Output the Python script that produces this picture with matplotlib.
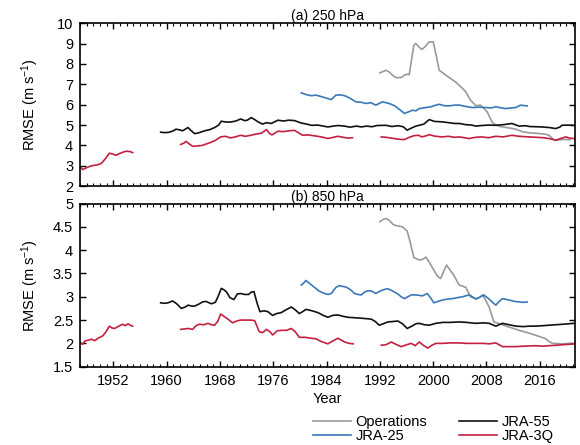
import numpy as np
import matplotlib
matplotlib.use('Agg')
import matplotlib.pyplot as plt
from matplotlib.ticker import MultipleLocator, FuncFormatter

plt.rcParams['font.family'] = ['Liberation Sans', 'DejaVu Sans']
plt.rcParams['font.size'] = 10.5
plt.rcParams['mathtext.default'] = 'regular'

nan = np.nan

# ---- (a) 250 hPa ----
ops_250_yr = [1992.0, 1992.9, 1993.4, 1994.0, 1994.4, 1995.2, 1995.7, 1996.1, 1996.4, 1997.1,
              1997.4, 1997.8, 1998.3, 1998.8, 1999.4, 2000.0, 2000.4, 2000.9, 2001.9, 2003.4,
              2004.4, 2004.9, 2005.6, 2006.4, 2007.1, 2008.1, 2008.9, 2009.9, 2011.4, 2012.4,
              2013.4, 2014.5, 2015.4, 2016.9, 2017.4, 2018.1, 2018.4, 2019.5, 2020.5]
ops_250 = [7.56, 7.69, 7.6, 7.42, 7.33, 7.33, 7.45, 7.5, 7.47, 8.92,
           9.0, 8.85, 8.71, 8.85, 9.08, 9.08, 8.5, 7.69, 7.45, 7.1,
           6.8, 6.63, 6.22, 5.95, 5.98, 5.65, 5.11, 4.94, 4.86, 4.8,
           4.67, 4.62, 4.6, 4.55, 4.5, 4.28, 4.25, 4.3, 4.28]

jra25_250_yr = [1980.2, 1980.9, 1981.7, 1982.4, 1983.4, 1984.2, 1984.7, 1985.4, 1986.2, 1986.9,
                1987.6, 1988.4, 1989.2, 1989.9, 1990.6, 1991.4, 1992.4, 1993.4, 1994.2, 1995.0,
                1995.7, 1996.3, 1996.9, 1997.4, 1997.9, 1998.9, 1999.7, 2000.4, 2000.9, 2001.7,
                2002.4, 2003.2, 2003.9, 2004.8, 2005.9, 2006.8, 2007.9, 2008.7, 2009.4, 2010.1,
                2010.9, 2011.6, 2012.4, 2013.1, 2014.1]
jra25_250 = [6.58, 6.5, 6.44, 6.47, 6.38, 6.3, 6.25, 6.47, 6.48, 6.42,
             6.3, 6.14, 6.12, 6.06, 6.1, 5.98, 6.14, 6.06, 5.95, 5.75,
             5.57, 5.65, 5.73, 5.7, 5.81, 5.86, 5.9, 5.98, 6.02, 5.95,
             5.94, 5.98, 5.98, 5.92, 5.86, 5.88, 5.86, 5.84, 5.9, 5.85,
             5.81, 5.84, 5.86, 5.98, 5.94]

jra55_250_yr = [1959.1, 1959.8, 1960.4, 1961.0, 1961.4, 1962.0, 1962.4, 1963.2, 1963.6, 1964.2,
                1964.8, 1965.7, 1966.5, 1967.2, 1967.8, 1968.2, 1968.9, 1969.6, 1970.4, 1971.1,
                1971.7, 1972.1, 1972.7, 1973.3, 1973.7, 1974.4, 1975.0, 1975.7, 1976.7, 1977.5,
                1978.3, 1979.2, 1980.2, 1981.0, 1981.7, 1982.7, 1983.5, 1984.2, 1985.0, 1985.7,
                1986.7, 1987.5, 1988.5, 1989.2, 1990.0, 1990.8, 1991.6, 1992.9, 1993.8, 1994.7,
                1995.5, 1996.1, 1996.7, 1997.4, 1997.9, 1998.6, 1999.4, 2000.2, 2001.3, 2002.3,
                2003.2, 2003.9, 2004.9, 2005.8, 2006.4, 2007.3, 2008.3, 2009.4, 2010.5, 2011.4,
                2011.8, 2012.9, 2013.8, 2014.5, 2016.3, 2017.4, 2018.4, 2019.0, 2019.3, 2020.2,
                2021.1]
jra55_250 = [4.65, 4.63, 4.65, 4.72, 4.8, 4.76, 4.72, 4.88, 4.75, 4.58,
             4.62, 4.72, 4.78, 4.88, 5.0, 5.19, 5.15, 5.15, 5.2, 5.3,
             5.22, 5.24, 5.37, 5.25, 5.16, 5.05, 5.12, 5.08, 5.24, 5.2,
             5.24, 5.22, 5.1, 5.05, 4.99, 5.0, 4.95, 4.91, 4.95, 4.98,
             4.95, 4.9, 4.95, 4.91, 4.95, 4.92, 4.98, 4.99, 4.93, 4.97,
             4.92, 4.75, 4.85, 4.95, 4.99, 5.05, 5.27, 5.18, 5.16, 5.12,
             5.08, 5.08, 5.02, 5.0, 4.95, 4.98, 5.0, 4.99, 5.02, 5.06,
             5.08, 4.95, 4.97, 4.93, 4.91, 4.88, 4.83, 4.9, 4.99, 5.0,
             4.99]

jra3q_250_yr = [1947.0, 1947.4, 1947.9, 1948.5, 1949.0, 1949.6, 1950.2, 1950.8, 1951.4, 1951.9,
                1952.4, 1952.9, 1953.5, 1954.0, 1954.5, 1954.9, 1958.0,
                1962.1, 1962.6, 1962.9, 1963.5, 1963.9, 1964.6, 1965.3, 1966.0, 1966.6, 1967.3,
                1968.1, 1968.8, 1969.6, 1970.3, 1971.1, 1971.8, 1972.6, 1973.4, 1974.2, 1975.0,
                1975.4, 1975.8, 1976.7, 1977.5, 1978.3, 1979.2, 1980.4, 1981.2, 1982.0, 1982.7,
                1983.5, 1984.2, 1985.0, 1985.7, 1986.5, 1987.2, 1987.9, 1990.0,
                1992.2, 1993.0, 1993.7, 1994.2, 1995.0, 1995.7, 1996.4, 1997.1, 1997.8, 1998.3,
                1999.0, 1999.4, 2000.2, 2001.3, 2002.3, 2003.2, 2003.9, 2004.7, 2005.4, 2006.3,
                2007.3, 2008.3, 2009.4, 2010.5, 2011.8, 2012.9, 2014.4, 2015.5, 2016.5, 2017.4,
                2018.4, 2019.2, 2019.9, 2020.5, 2021.1]
jra3q_250 = [2.95, 2.82, 2.9, 2.98, 3.02, 3.05, 3.12, 3.35, 3.62, 3.58,
             3.52, 3.6, 3.68, 3.72, 3.7, 3.65, nan,
             4.05, 4.12, 4.2, 4.05, 3.96, 3.98, 4.0, 4.08, 4.15, 4.25,
             4.42, 4.45, 4.37, 4.42, 4.5, 4.45, 4.5, 4.56, 4.6, 4.78,
             4.6, 4.52, 4.7, 4.68, 4.72, 4.74, 4.5, 4.52, 4.48, 4.45,
             4.4, 4.34, 4.4, 4.45, 4.4, 4.36, 4.38, nan,
             4.42, 4.4, 4.36, 4.34, 4.3, 4.29, 4.4, 4.48, 4.5, 4.42,
             4.48, 4.53, 4.46, 4.42, 4.45, 4.4, 4.42, 4.38, 4.34, 4.4,
             4.42, 4.38, 4.45, 4.42, 4.5, 4.45, 4.42, 4.4, 4.38, 4.34,
             4.26, 4.35, 4.42, 4.36, 4.34]

# ---- (b) 850 hPa ----
ops_850_yr = [1992.0, 1992.5, 1992.9, 1993.4, 1994.0, 1994.4, 1995.4, 1996.1, 1996.5, 1997.1,
              1997.9, 1998.4, 1998.9, 1999.5, 2000.1, 2000.6, 2001.1, 2001.6, 2002.0, 2002.5,
              2003.1, 2003.9, 2004.4, 2004.9, 2005.6, 2006.3, 2006.9, 2007.4, 2007.9, 2008.4,
              2009.1, 2010.4, 2011.4, 2012.9, 2014.4, 2016.1, 2016.9, 2017.4, 2017.9, 2019.4,
              2020.5, 2021.1]
ops_850 = [4.61, 4.66, 4.68, 4.64, 4.55, 4.53, 4.5, 4.41, 4.2, 3.84,
           3.79, 3.8, 3.85, 3.72, 3.57, 3.45, 3.39, 3.55, 3.68, 3.58,
           3.46, 3.25, 3.23, 3.2, 3.0, 2.96, 2.98, 3.04, 2.92, 2.78,
           2.46, 2.4, 2.35, 2.28, 2.22, 2.14, 2.1, 2.04, 2.0, 1.99,
           2.0, 1.99]

jra25_850_yr = [1980.2, 1980.6, 1980.9, 1981.5, 1982.2, 1982.9, 1983.7, 1984.2, 1984.7, 1985.4,
                1985.9, 1986.5, 1986.9, 1987.6, 1988.2, 1988.7, 1989.2, 1989.7, 1990.2, 1990.8,
                1991.4, 1992.0, 1992.7, 1993.2, 1993.7, 1994.2, 1994.7, 1995.2, 1995.7, 1996.2,
                1996.7, 1997.4, 1998.4, 1999.1, 1999.6, 2000.1, 2000.7, 2001.4, 2002.1, 2002.9,
                2003.6, 2004.4, 2005.4, 2005.9, 2006.4, 2007.0, 2007.6, 2008.4, 2008.9, 2009.4,
                2009.9, 2010.4, 2011.4, 2012.2, 2012.9, 2013.5, 2014.1]
jra25_850 = [3.25, 3.3, 3.35, 3.28, 3.2, 3.12, 3.07, 3.05, 3.07, 3.2,
             3.24, 3.22, 3.21, 3.15, 3.07, 3.05, 3.04, 3.1, 3.13, 3.12,
             3.07, 3.12, 3.16, 3.17, 3.14, 3.1, 3.06, 3.0, 2.96, 3.0,
             3.04, 3.04, 3.02, 3.07, 2.98, 2.87, 2.9, 2.93, 2.95, 2.96,
             2.98, 3.0, 3.04, 3.0, 2.95, 2.99, 3.04, 2.95, 2.88, 2.82,
             2.9, 2.96, 2.93, 2.9, 2.89, 2.88, 2.89]

jra55_850_yr = [1959.1, 1959.7, 1960.2, 1960.9, 1961.5, 1962.2, 1962.8, 1963.2, 1963.8, 1964.2,
                1964.8, 1965.4, 1965.9, 1966.7, 1967.3, 1967.7, 1968.2, 1968.6, 1969.0, 1969.5,
                1970.1, 1970.6, 1971.1, 1971.7, 1972.3, 1972.7, 1973.1, 1973.6, 1974.0, 1974.6,
                1975.2, 1975.9, 1976.5, 1977.2, 1977.9, 1978.7, 1979.3, 1979.9, 1980.4, 1980.9,
                1981.8, 1982.7, 1983.5, 1984.2, 1984.9, 1985.7, 1986.5, 1987.2, 1988.2, 1989.2,
                1990.0, 1990.7, 1991.3, 1991.9, 1992.5, 1993.2, 1994.0, 1994.7, 1995.4, 1996.1,
                1996.8, 1997.4, 1997.9, 1998.7, 1999.4, 2000.4, 2001.4, 2002.5, 2003.9, 2005.0,
                2006.4, 2007.5, 2008.4, 2009.4, 2010.4, 2011.4, 2012.4, 2013.5, 2014.5, 2015.4,
                2016.5, 2017.4, 2018.4, 2019.4, 2020.3, 2021.1]
jra55_850 = [2.87, 2.86, 2.87, 2.91, 2.85, 2.75, 2.78, 2.82, 2.8, 2.8,
             2.84, 2.89, 2.9, 2.85, 2.88, 3.0, 3.18, 3.15, 3.1, 2.98,
             2.94, 3.06, 3.07, 3.05, 3.05, 3.1, 3.11, 2.85, 2.68, 2.7,
             2.68, 2.6, 2.64, 2.66, 2.72, 2.78, 2.72, 2.64, 2.68, 2.73,
             2.7, 2.66, 2.6, 2.56, 2.6, 2.61, 2.58, 2.56, 2.55, 2.54,
             2.53, 2.52, 2.47, 2.39, 2.42, 2.46, 2.47, 2.48, 2.42, 2.32,
             2.37, 2.42, 2.43, 2.4, 2.39, 2.43, 2.45, 2.45, 2.46, 2.45,
             2.43, 2.44, 2.43, 2.37, 2.43, 2.4, 2.37, 2.36, 2.37, 2.37,
             2.38, 2.39, 2.4, 2.41, 2.42, 2.43]

jra3q_850_yr = [1947.0, 1947.4, 1947.7, 1948.3, 1948.7, 1949.2, 1949.7, 1950.4, 1950.9, 1951.4,
                1951.8, 1952.2, 1952.8, 1953.4, 1953.8, 1954.2, 1954.5, 1954.9, 1958.0,
                1962.1, 1962.7, 1963.2, 1963.9, 1964.4, 1964.9, 1965.6, 1966.2, 1966.7, 1967.2,
                1967.7, 1968.1, 1968.6, 1969.2, 1969.9, 1970.5, 1971.1, 1971.8, 1972.5, 1973.2,
                1973.9, 1974.4, 1975.0, 1975.5, 1975.9, 1976.6, 1977.2, 1978.0, 1978.7, 1979.3,
                1979.9, 1980.8, 1981.7, 1982.4, 1983.2, 1984.2, 1984.9, 1985.7, 1986.2, 1986.7,
                1987.4, 1988.0, 1990.0,
                1992.2, 1992.9, 1993.7, 1994.4, 1995.2, 1996.0, 1996.7, 1997.3, 1997.9, 1998.6,
                1999.2, 1999.8, 2000.4, 2001.4, 2002.5, 2003.9, 2005.0, 2006.4, 2007.5, 2008.4,
                2009.4, 2010.4, 2011.4, 2012.4, 2013.5, 2015.4, 2016.5, 2017.4, 2018.4, 2019.4,
                2020.3, 2021.1]
jra3q_850 = [2.02, 1.98, 2.05, 2.07, 2.09, 2.06, 2.11, 2.16, 2.25, 2.37,
             2.33, 2.32, 2.37, 2.41, 2.38, 2.42, 2.39, 2.37, nan,
             2.3, 2.31, 2.32, 2.3, 2.38, 2.41, 2.4, 2.43, 2.4, 2.39,
             2.48, 2.63, 2.58, 2.52, 2.44, 2.48, 2.5, 2.5, 2.5, 2.49,
             2.25, 2.23, 2.3, 2.25, 2.18, 2.27, 2.28, 2.28, 2.32, 2.25,
             2.13, 2.13, 2.11, 2.1, 2.04, 1.99, 2.05, 2.11, 2.07, 2.03,
             2.0, 1.99, nan,
             1.96, 1.97, 2.03, 1.98, 1.93, 1.97, 2.0, 1.95, 2.03, 1.95,
             1.9, 1.96, 2.0, 2.0, 2.01, 2.01, 2.0, 2.0, 2.0, 1.99,
             2.01, 1.93, 1.93, 1.93, 1.94, 1.95, 1.94, 1.95, 1.96, 1.97,
             1.98, 1.99]

names = ['Operations', 'JRA-25', 'JRA-55', 'JRA-3Q']
colors = ['#9a9a9a', '#3a78b8', '#111111', '#c4203f']

panels = [
    ('(a) 250 hPa', (2, 10), 1,
     [(ops_250_yr, ops_250), (jra25_250_yr, jra25_250),
      (jra55_250_yr, jra55_250), (jra3q_250_yr, jra3q_250)]),
    ('(b) 850 hPa', (1.5, 5), 0.5,
     [(ops_850_yr, ops_850), (jra25_850_yr, jra25_850),
      (jra55_850_yr, jra55_850), (jra3q_850_yr, jra3q_850)]),
]

fig, axes = plt.subplots(2, 1, figsize=(5.8, 4.45), dpi=100)
fig.subplots_adjust(left=0.138, right=0.991, top=0.948, bottom=0.176, hspace=0.106)

for ax, (title, ylim, ystep, series) in zip(axes, panels):
    for (yr, val), name, c in zip(series, names, colors):
        ax.plot(yr, val, color=c, lw=1.2, label=name)
    ax.set_xlim(1947, 2021.25)
    ax.set_ylim(*ylim)
    ax.xaxis.set_major_locator(MultipleLocator(8))
    ax.xaxis.set_minor_locator(MultipleLocator(1))
    ax.yaxis.set_major_locator(MultipleLocator(ystep))
    ax.yaxis.set_major_formatter(FuncFormatter(lambda v, p: '%g' % v))
    ax.tick_params(which='both', direction='in', top=True, right=True, labelsize=10.5)
    ax.tick_params(which='major', length=4, width=1, pad=5)
    ax.tick_params(which='minor', length=2, width=0.8)
    for s in ax.spines.values():
        s.set_linewidth(1.2)
    ax.set_title(title, fontsize=10, pad=2)
    ax.set_ylabel('RMSE (m s$^{-1}$)', fontsize=10.5)
    ax.yaxis.set_label_coords(-0.078, 0.5)

axes[0].tick_params(labelbottom=False)
axes[1].set_xticks(np.arange(1952, 2021, 8))
axes[1].set_xlabel('Year', fontsize=10.5, labelpad=3)

handles, labels = axes[0].get_legend_handles_labels()
fig.legend(handles, labels, ncol=2, loc='upper left', bbox_to_anchor=(0.54, 0.068),
           frameon=False, fontsize=10.5, handlelength=2.6, handletextpad=0.3,
           columnspacing=2.2, labelspacing=0.0, borderpad=0, borderaxespad=0)

fig.savefig('out.png', dpi=100)
